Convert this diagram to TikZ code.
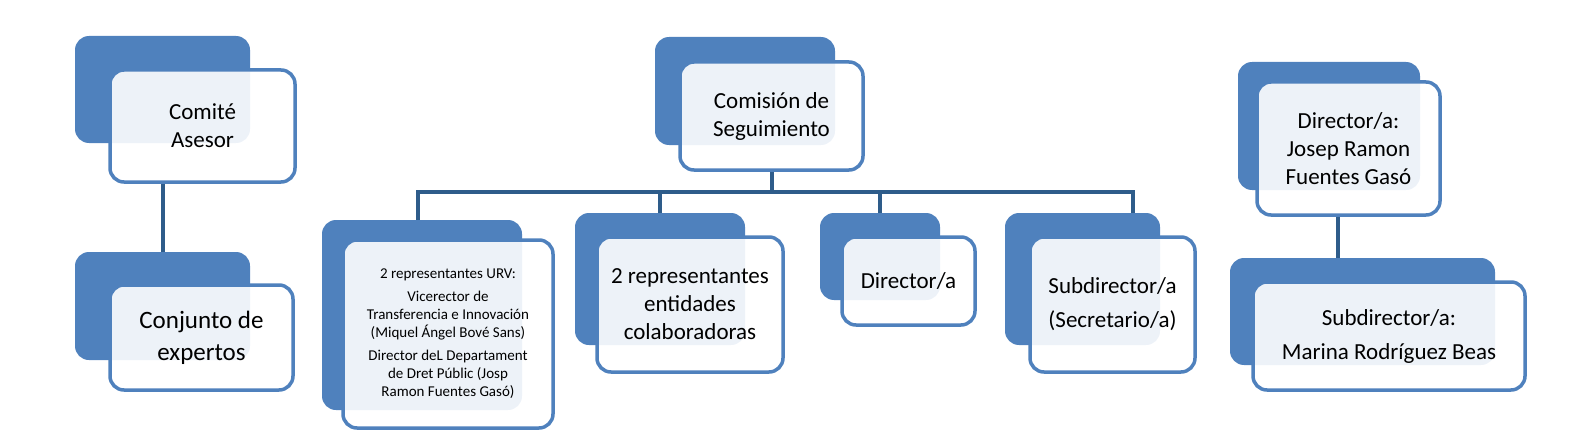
\documentclass[tikz,border=0pt]{standalone}
\usepackage{fontspec}
\setmainfont{Carlito}
\definecolor{acc}{HTML}{4F81BD}
\definecolor{ln}{HTML}{2E5C8A}
\begin{document}
\begin{tikzpicture}[x=1pt,y=-1pt,
  back/.style={fill=acc,draw=none,rounded corners=14pt,inner sep=0pt},
  front/.style={fill=white,fill opacity=0.9,text opacity=1,draw=acc,line width=3.5pt,rounded corners=14pt,align=center,inner sep=0pt,font=\fontsize{23}{28}\selectfont},
  conn/.style={draw=ln,line width=4pt}]
\useasboundingbox (0,0) rectangle (1585,444);
% Comite
\node[back,minimum width=175,minimum height=107] (cab) at (162.5,89.5) {};
\node[front,minimum width=185,minimum height=112] (ca) at (202.5,126) {Comité\\Asesor};
\node[back,minimum width=175,minimum height=108] (ceb) at (162.5,306) {};
\node[front,minimum width=183,minimum height=105,font=\fontsize{25}{32}\selectfont] (ce) at (201.5,337.5) {Conjunto de\\expertos};
\draw[conn] (ca.south -| cab.south) -- (ceb.north);
% Comision
\node[back,minimum width=180,minimum height=108] (csb) at (745,91) {};
\node[front,minimum width=183,minimum height=108] (cs) at (771.5,116) {Comisión de\\Seguimiento};
\coordinate (j) at (771.5,192);
\coordinate (d1) at (418,192);
\coordinate (d4) at (1133,192);
\node[back,minimum width=200,minimum height=190] (urvb) at (422,315) {};
\node[front,minimum width=210,minimum height=188,font=\fontsize{15}{18}\selectfont] (urv) at (448,334) {2 representantes URV:\\[5pt]Vicerector de\\Transferencia e Innovación\\(Miquel Ángel Bové Sans)\\[5pt]Director deL Departament\\de Dret Públic (Josp\\Ramon Fuentes Gasó)};
\node[back,minimum width=170,minimum height=132] (reb) at (660,279) {};
\node[front,minimum width=186,minimum height=135] (re) at (690,304.5) {2 representantes\\entidades\\colaboradoras};
\node[back,minimum width=120,minimum height=87] (dib) at (880,256.5) {};
\node[front,minimum width=133,minimum height=88] (di) at (908.5,281) {Director/a};
\node[back,minimum width=155,minimum height=132] (sub) at (1082.5,279) {};
\node[front,minimum width=165,minimum height=135] (su) at (1112.5,304.5) {Subdirector/a\\[6pt](Secretario/a)};
\draw[conn] (cs.south) -- (j);
\draw[conn,line cap=rect] (d1) -- (d4);
\draw[conn] (d1) -- (d1 |- urvb.north);
\draw[conn] (reb.north |- j) -- (reb.north);
\draw[conn] (dib.north |- j) -- (dib.north);
\draw[conn] (d4) -- (d4 |- sub.north);
% right
\node[back,minimum width=182,minimum height=128] (jrb) at (1329,126) {};
\node[front,minimum width=183,minimum height=133] (jr) at (1348.5,148.5) {Director/a:\\Josep Ramon\\Fuentes Gasó};
\node[back,minimum width=265,minimum height=107] (mrb) at (1362.5,311.5) {};
\node[front,minimum width=272,minimum height=108] (mr) at (1389,336) {Subdirector/a:\\[6pt]Marina Rodríguez Beas};
\coordinate (r) at (1338,0);
\draw[conn] (jr.south -| r) -- (mrb.north -| r);
\end{tikzpicture}
\end{document}
